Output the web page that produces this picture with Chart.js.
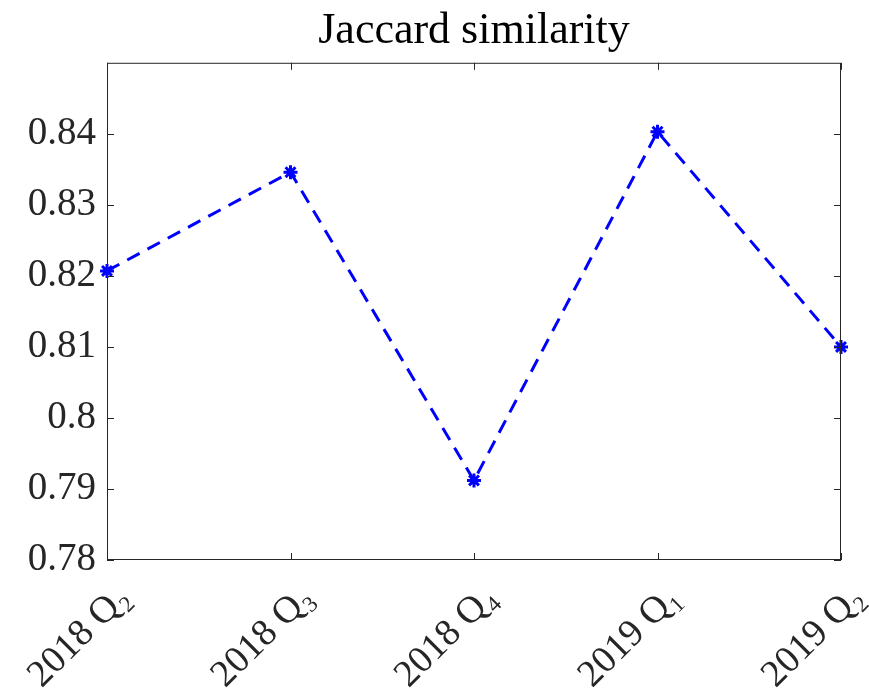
<!DOCTYPE html>
<html>
<head>
<meta charset="utf-8">
<script src="https://cdn.jsdelivr.net/npm/chart.js@4"></script>
<style>
  html, body { margin: 0; padding: 0; background: #fff; }
  #wrap { width: 869px; height: 693px; }
</style>
</head>
<body>
<div id="wrap"><canvas id="jaccardChart" width="869" height="693"></canvas></div>
<script>
const quarters = ["2018 Q\u2082", "2018 Q\u2083", "2018 Q\u2084", "2019 Q\u2081", "2019 Q\u2082"];
const jaccard = [0.8207, 0.8346, 0.7912, 0.8403, 0.8100];
const yTicks = [0.78, 0.79, 0.80, 0.81, 0.82, 0.83, 0.84];

const axisColor = "#262626";
const serif = "'Liberation Serif', 'DejaVu Serif', serif";

// MATLAB style box with inward ticks on all four sides
const boxPlugin = {
  id: "boxTicks",
  afterLayout(chart) {
    // center the title over the plot box, not the whole canvas
    const t = chart.titleBlock;
    if (t) {
      t.left = chart.chartArea.left;
      t.right = chart.chartArea.right;
      t.width = t.right - t.left;
    }
  },
  afterDraw(chart) {
    const { ctx, chartArea: a, scales } = chart;
    const len = 7;
    ctx.save();
    ctx.strokeStyle = axisColor;
    ctx.lineWidth = 1;
    ctx.strokeRect(a.left + 0.5, a.top + 0.5, a.right - a.left - 1, a.bottom - a.top - 1);
    ctx.beginPath();
    yTicks.forEach(v => {
      const y = Math.round(scales.y.getPixelForValue(v)) + 0.5;
      ctx.moveTo(a.left, y); ctx.lineTo(a.left + len, y);
      ctx.moveTo(a.right, y); ctx.lineTo(a.right - len, y);
    });
    quarters.forEach((q, i) => {
      const x = Math.round(scales.x.getPixelForValue(i)) + 0.5;
      ctx.moveTo(x, a.bottom); ctx.lineTo(x, a.bottom - len);
      ctx.moveTo(x, a.top); ctx.lineTo(x, a.top + len);
    });
    ctx.stroke();
    ctx.restore();
  }
};

new Chart(document.getElementById("jaccardChart"), {
  type: "line",
  data: {
    labels: quarters,
    datasets: [{
      data: jaccard,
      borderColor: "#0000ff",
      backgroundColor: "#0000ff",
      borderWidth: 3,
      borderDash: [14, 9],
      tension: 0,
      pointStyle: "star",
      pointRadius: 7,
      pointBorderWidth: 3,
      pointBorderColor: "#0000ff",
      clip: false
    }]
  },
  options: {
    responsive: false,
    animation: false,
    layout: { padding: { left: 0, right: 28, top: 0, bottom: 0 } },
    plugins: {
      legend: { display: false },
      tooltip: { enabled: false },
      title: {
        display: true,
        text: "Jaccard similarity",
        color: "#000",
        font: { family: serif, size: 44, weight: "normal" },
        padding: { top: 5, bottom: 5 }
      }
    },
    scales: {
      x: {
        type: "category",
        offset: false,
        grid: { display: false, drawTicks: false },
        border: { display: false },
        ticks: {
          color: axisColor,
          font: { family: serif, size: 38 },
          maxRotation: 45,
          minRotation: 45,
          labelOffset: 17,
          padding: 16
        },
        afterFit(scale) {
          scale.height = 133;
          scale.paddingLeft = 0;
          scale.paddingRight = 0;
        }
      },
      y: {
        min: 0.78,
        max: 0.85,
        grid: { display: false, drawTicks: false },
        border: { display: false },
        ticks: {
          stepSize: 0.01,
          color: axisColor,
          font: { family: serif, size: 39 },
          padding: 11,
          callback: v => (Math.abs(v - 0.85) < 1e-9 ? "" : String(parseFloat(v.toFixed(2))))
        },
        afterFit(scale) {
          scale.width = 107;
          scale.paddingTop = 0;
          scale.paddingBottom = 0;
        }
      }
    }
  },
  plugins: [boxPlugin]
});
</script>
</body>
</html>
